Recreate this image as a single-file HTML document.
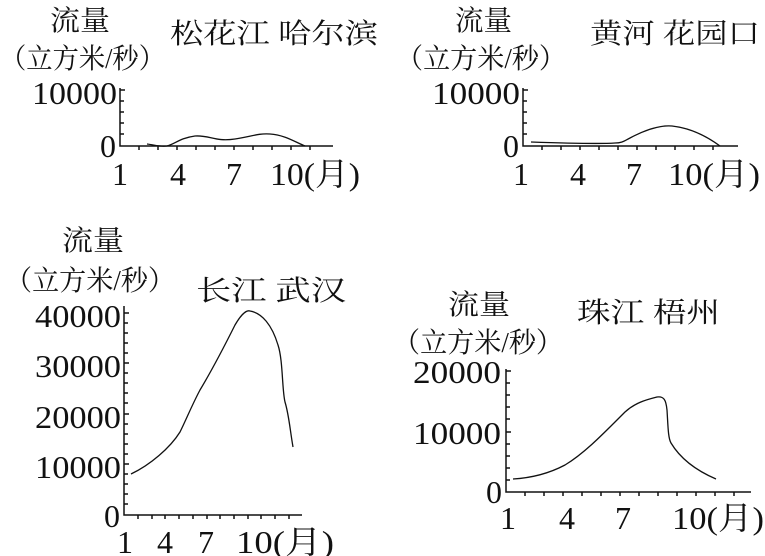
<!DOCTYPE html>
<html><head><meta charset="utf-8"><style>
html,body{margin:0;padding:0;background:#fff;}
svg{display:block}
text{font-family:"Liberation Serif","Noto Serif CJK SC",serif;fill:#111}
.c{font-family:"Noto Serif CJK SC","Noto Sans CJK SC",serif}
</style></head><body>
<svg width="765" height="556" viewBox="0 0 765 556" xmlns="http://www.w3.org/2000/svg">
<g stroke="#111" stroke-width="1.5" fill="none">
<path d="M120 88 V146 H333"/>
<path d="M120 90h5M120 101h4M120 112h4M120 123h4M120 134h4"/>
<path d="M139 146v4M158 146v4M177 146v4M196 146v4M215 146v4M234 146v4M253 146v4M272 146v4M291 146v4M310 146v4"/>
<path d="M147 144 C155 145,160 147,167 146 C175 144,180 138,195 136 C210 135,215 142,235 139 C250 137,258 133,270 134 C285 135,295 142,305 146" stroke-width="1.3"/>
<path d="M523 88 V146 H738"/>
<path d="M523 90h5M523 101h4M523 112h4M523 123h4M523 134h4"/>
<path d="M542 146v4M561 146v4M580 146v4M599 146v4M618 146v4M637 146v4M656 146v4M675 146v4M694 146v4M713 146v4"/>
<path d="M531 142 C560 143,600 144,615 143 C622 143,624 141,630 138 C645 130,660 125,672 126 C690 128,705 135,720 146" stroke-width="1.3"/>
<path d="M124 306 V515 H302"/>
<path d="M124 313h5M124 323h4M124 333h4M124 343h4M124 353h4M124 363h5M124 373h4M124 383h4M124 393h4M124 403h4M124 414h5M124 424h4M124 434h4M124 444h4M124 454h4M124 464h5M124 474h4M124 484h4M124 494h4M124 504h4"/>
<path d="M138 515v4M152 515v4M165 515v4M179 515v4M193 515v4M207 515v4M220 515v4M234 515v4M248 515v4M261 515v4M275 515v4M289 515v4"/>
<path d="M131 474 C150 465,170 448,180 432 C186 420,192 405,200 390 C212 370,225 345,235 325 C242 313,247 310,250 311 C262 313,272 325,278 345 C283 360,282 390,285 402 C289 415,290 430,293 447" stroke-width="1.3"/>
<path d="M506 369 V492 H751"/>
<path d="M506 371h5M506 383h4M506 395h4M506 407h4M506 419h4M506 432h5M506 444h4M506 456h4M506 468h4M506 480h4"/>
<path d="M525 492v4M544 492v4M563 492v4M582 492v4M601 492v4M620 492v4M639 492v4M658 492v4M677 492v4M696 492v4M715 492v4M734 492v4"/>
<path d="M513 479 C530 478,548 474,565 465 C585 453,605 432,625 412 C635 403,645 400,657 397 C664 396,666 400,667 410 C668 425,668 438,671 443 C680 458,695 470,716 479" stroke-width="1.3"/>
</g>
<g font-size="28" class="c">
<text x="50" y="30" textLength="60" lengthAdjust="spacingAndGlyphs">流量</text>
<text x="0" y="68" textLength="165" lengthAdjust="spacingAndGlyphs">（立方米/秒）</text>
<text x="170" y="43" textLength="208" lengthAdjust="spacingAndGlyphs">松花江 哈尔滨</text>
<text x="455" y="30" textLength="57" lengthAdjust="spacingAndGlyphs">流量</text>
<text x="396" y="68" textLength="170" lengthAdjust="spacingAndGlyphs">（立方米/秒）</text>
<text x="590" y="43" textLength="170" lengthAdjust="spacingAndGlyphs">黄河 花园口</text>
<text x="62" y="250" textLength="62" lengthAdjust="spacingAndGlyphs">流量</text>
<text x="5" y="290" textLength="170" lengthAdjust="spacingAndGlyphs">（立方米/秒）</text>
<text x="196" y="300" textLength="150" lengthAdjust="spacingAndGlyphs">长江  武汉</text>
<text x="448" y="314" textLength="62" lengthAdjust="spacingAndGlyphs">流量</text>
<text x="393" y="352" textLength="170" lengthAdjust="spacingAndGlyphs">（立方米/秒）</text>
<text x="577" y="322" textLength="143" lengthAdjust="spacingAndGlyphs">珠江 梧州</text>
</g>
<g font-size="32">
<text x="32" y="104" textLength="85" lengthAdjust="spacingAndGlyphs">10000</text>
<text x="116" y="157" text-anchor="end">0</text>
<text x="120" y="185" text-anchor="middle">1</text>
<text x="178" y="185" text-anchor="middle">4</text>
<text x="234" y="185" text-anchor="middle">7</text>
<text x="270" y="185" textLength="90" lengthAdjust="spacingAndGlyphs">10(月)</text>
<text x="432" y="104" textLength="88" lengthAdjust="spacingAndGlyphs">10000</text>
<text x="519" y="157" text-anchor="end">0</text>
<text x="521" y="185" text-anchor="middle">1</text>
<text x="578" y="185" text-anchor="middle">4</text>
<text x="634" y="185" text-anchor="middle">7</text>
<text x="668" y="185" textLength="92" lengthAdjust="spacingAndGlyphs">10(月)</text>
<text x="35" y="327" textLength="86" lengthAdjust="spacingAndGlyphs">40000</text>
<text x="35" y="377" textLength="86" lengthAdjust="spacingAndGlyphs">30000</text>
<text x="35" y="428" textLength="86" lengthAdjust="spacingAndGlyphs">20000</text>
<text x="35" y="478" textLength="86" lengthAdjust="spacingAndGlyphs">10000</text>
<text x="120" y="527" text-anchor="end">0</text>
<text x="125" y="553" text-anchor="middle">1</text>
<text x="165" y="553" text-anchor="middle">4</text>
<text x="206" y="553" text-anchor="middle">7</text>
<text x="236" y="553" textLength="98" lengthAdjust="spacingAndGlyphs">10(月)</text>
<text x="413" y="383" textLength="88" lengthAdjust="spacingAndGlyphs">20000</text>
<text x="413" y="444" textLength="88" lengthAdjust="spacingAndGlyphs">10000</text>
<text x="502" y="503" text-anchor="end">0</text>
<text x="508" y="529" text-anchor="middle">1</text>
<text x="567" y="529" text-anchor="middle">4</text>
<text x="623" y="529" text-anchor="middle">7</text>
<text x="672" y="529" textLength="92" lengthAdjust="spacingAndGlyphs">10(月)</text>
</g>
</svg>
</body></html>
